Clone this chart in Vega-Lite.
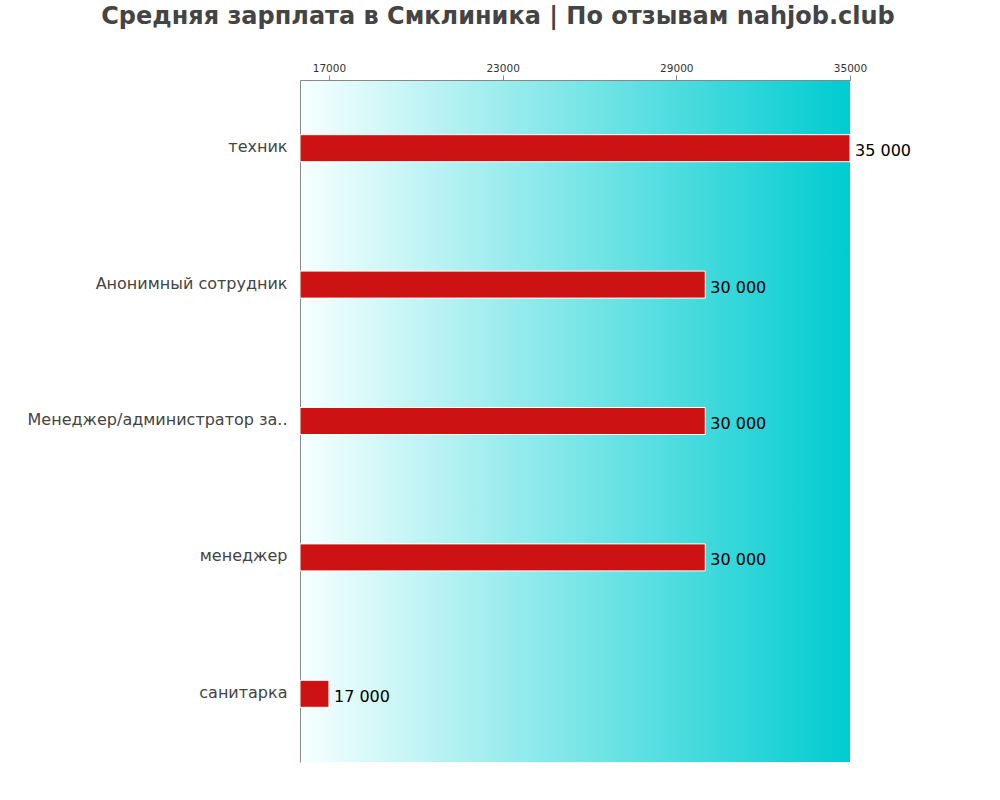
{
  "$schema": "https://vega.github.io/schema/vega-lite/v6.json",
  "width": 550,
  "height": 682,
  "autosize": {"type": "none"},
  "padding": {"left": 300, "top": 80, "right": 150, "bottom": 38},
  "background": "white",
  "title": {
    "text": "Средняя зарплата в Смклиника | По отзывам nahjob.club",
    "font": "DejaVu Sans",
    "fontSize": 24,
    "fontWeight": "bold",
    "color": "#444444",
    "anchor": "middle",
    "dx": -77,
    "offset": 34
  },
  "config": {
    "font": "DejaVu Sans",
    "locale": {"number": {"decimal": ",", "thousands": " ", "grouping": [3], "currency": ["", ""]}},
    "view": {
      "stroke": null,
      "fill": {
        "gradient": "linear",
        "x1": 0, "y1": 0, "x2": 1, "y2": 0,
        "stops": [
          {"offset": 0, "color": "#f7ffff"},
          {"offset": 1, "color": "#00ccd0"}
        ]
      }
    }
  },
  "data": {
    "values": [
      {"job": "техник", "salary": 35000},
      {"job": "Анонимный сотрудник", "salary": 30000},
      {"job": "Менеджер/администратор за..", "salary": 30000},
      {"job": "менеджер", "salary": 30000},
      {"job": "санитарка", "salary": 17000}
    ]
  },
  "encoding": {
    "y": {
      "field": "job",
      "type": "nominal",
      "sort": null,
      "title": null,
      "axis": {
        "labelFont": "DejaVu Sans",
        "labelFontSize": 16,
        "labelColor": "#444444",
        "labelPadding": 13,
        "labelOffset": -1,
        "ticks": false,
        "domainColor": "#888888",
        "labelLimit": 300
      }
    },
    "x": {
      "field": "salary",
      "type": "quantitative",
      "scale": {"domain": [16000, 35000], "zero": false, "nice": false},
      "title": null,
      "axis": {
        "orient": "top",
        "values": [17000, 23000, 29000, 35000],
        "format": "d",
        "labelFontSize": 10.5,
        "labelColor": "#333333",
        "labelFlush": false,
        "labelOverlap": false,
        "tickColor": "#888888",
        "tickSize": 5,
        "domainColor": "#888888",
        "grid": false,
        "labelPadding": 2
      }
    }
  },
  "layer": [
    {
      "mark": {"type": "bar", "size": 27, "color": "#cc1212", "stroke": "white", "strokeWidth": 1},
      "encoding": {"x2": {"datum": 16000}}
    },
    {
      "mark": {"type": "text", "align": "left", "baseline": "middle", "dx": 5, "dy": 3, "fontSize": 16, "color": "#000000"},
      "encoding": {
        "text": {"field": "salary", "type": "quantitative", "format": ",d"}
      }
    }
  ]
}
